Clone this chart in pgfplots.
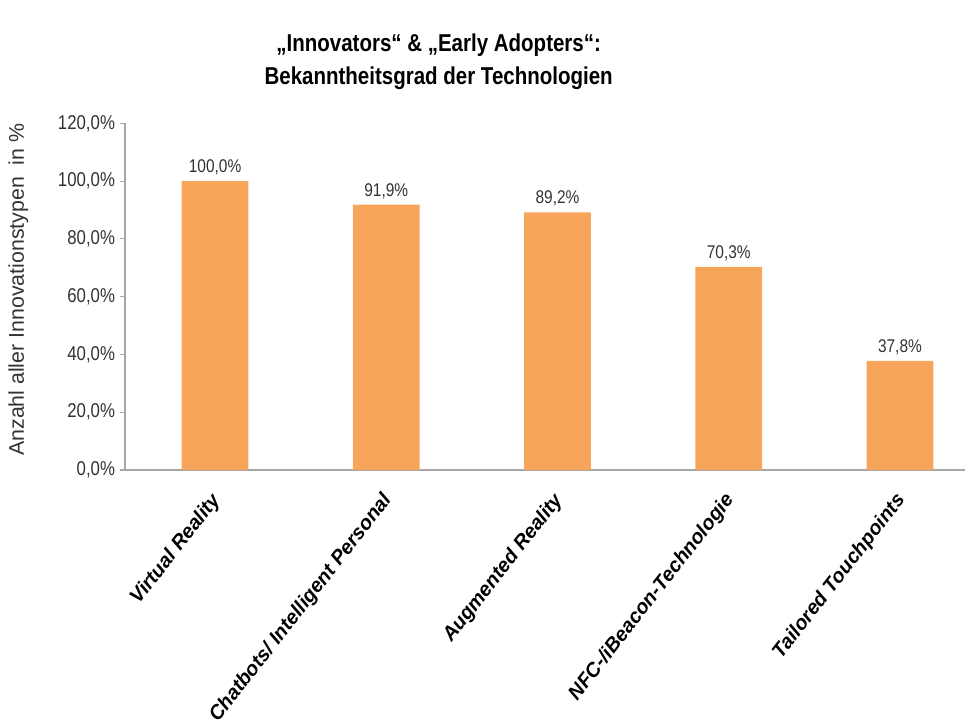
\documentclass[border=0pt]{standalone}
\usepackage{fontspec}
\setmainfont{Liberation Sans}
\newfontfamily\narrowfont[FakeStretch=0.84]{Liberation Sans}
\usepackage{pgfplots}
\pgfplotsset{compat=1.18}
\definecolor{barorange}{HTML}{F6A55A}
\definecolor{axisgray}{HTML}{A6A6A6}
\definecolor{txtgray}{HTML}{333333}
\begin{document}
\begin{tikzpicture}
\path[use as bounding box] (0pt,0pt) rectangle (731.25pt,545.25pt);
\node[font=\narrowfont\bfseries\fontsize{18.3}{25}\selectfont, align=center, text=black] at (329pt,499pt) {„Innovators“ \& „Early Adopters“:\\Bekanntheitsgrad der Technologien};
\begin{axis}[
  at={(93.75pt,192.75pt)}, anchor=south west,
  width=630pt, height=260pt, scale only axis,
  xmin=-0.526, xmax=4.38, ymin=0, ymax=120,
  axis x line*=bottom, axis y line*=left,
  axis line style={axisgray, line width=0.8pt},
  xtick={0,1,2,3,4},
  xticklabels={Virtual Reality, Chatbots/ Intelligent Personal, Augmented Reality, NFC-/iBeacon-Technologie, Tailored Touchpoints},
  x tick style={draw=none},
  x tick label style={font=\bfseries\itshape\fontsize{15}{17}\selectfont, rotate=52, anchor=north east, xshift=-8.6pt, yshift=-0.4pt, text=black},
  ytick={0,20,...,120},
  yticklabel={\pgfmathprintnumber[fixed,fixed zerofill,precision=1,use comma]{\tick}\%},
  y tick label style={font=\narrowfont\fontsize{15}{17}\selectfont, text=txtgray},
  /pgf/number format/assume math mode=true,
  y tick style={axisgray, line width=0.8pt},
  tick align=outside, major tick length=4pt,
  ylabel={Anzahl aller Innovationstypen\ \ in \%},
  ylabel style={font=\fontsize{16}{18}\selectfont, text=txtgray, at={(axis description cs:-0.127,0.52)}, anchor=center},
  ybar, bar width=50pt,
  nodes near coords={\pgfmathprintnumber[fixed,fixed zerofill,precision=1,use comma]{\pgfplotspointmeta}\%},
  nodes near coords style={font=\narrowfont\fontsize{13.8}{15}\selectfont, text=txtgray, yshift=1pt},
]
\addplot[fill=barorange, draw=none] coordinates {(0,100) (1,91.9) (2,89.2) (3,70.3) (4,37.8)};
\end{axis}
\end{tikzpicture}
\end{document}
